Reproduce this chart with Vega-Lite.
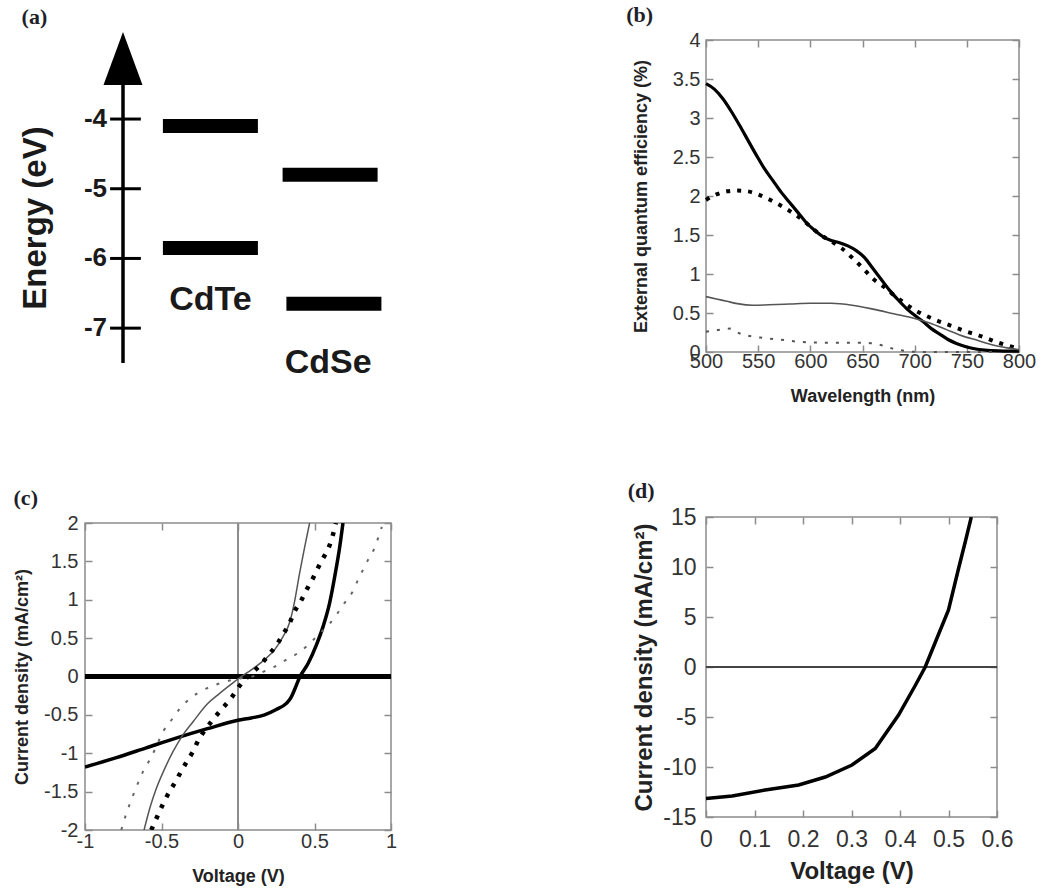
{
"$schema": "https://vega.github.io/schema/vega-lite/v6.json",
"background": "white",
"padding": {"left": 12, "top": 3, "right": 5, "bottom": 5},
"datasets": {
"levels": [
{"material": "CdTe", "band": "LUMO", "E": -4.1, "x1": 1.05, "x2": 3.55},
{"material": "CdTe", "band": "HOMO", "E": -5.85, "x1": 1.05, "x2": 3.55},
{"material": "CdSe", "band": "LUMO", "E": -4.8, "x1": 4.2, "x2": 6.7},
{"material": "CdSe", "band": "HOMO", "E": -6.65, "x1": 4.3, "x2": 6.8}
],
"eticks": [{"E": -4}, {"E": -5}, {"E": -6}, {"E": -7}],
"eqe": [
{"s":"A","wl":500,"eqe":3.44},{"s":"A","wl":508,"eqe":3.37},{"s":"A","wl":516,"eqe":3.25},{"s":"A","wl":524,"eqe":3.09},{"s":"A","wl":532,"eqe":2.91},{"s":"A","wl":540,"eqe":2.72},{"s":"A","wl":548,"eqe":2.53},{"s":"A","wl":556,"eqe":2.35},{"s":"A","wl":564,"eqe":2.2},{"s":"A","wl":572,"eqe":2.05},{"s":"A","wl":580,"eqe":1.92},{"s":"A","wl":588,"eqe":1.79},{"s":"A","wl":596,"eqe":1.66},{"s":"A","wl":604,"eqe":1.56},{"s":"A","wl":612,"eqe":1.48},{"s":"A","wl":620,"eqe":1.43},{"s":"A","wl":628,"eqe":1.4},{"s":"A","wl":636,"eqe":1.36},{"s":"A","wl":644,"eqe":1.3},{"s":"A","wl":652,"eqe":1.21},{"s":"A","wl":660,"eqe":1.07},{"s":"A","wl":668,"eqe":0.93},{"s":"A","wl":676,"eqe":0.79},{"s":"A","wl":684,"eqe":0.67},{"s":"A","wl":692,"eqe":0.56},{"s":"A","wl":700,"eqe":0.47},{"s":"A","wl":708,"eqe":0.39},{"s":"A","wl":716,"eqe":0.3},{"s":"A","wl":724,"eqe":0.23},{"s":"A","wl":732,"eqe":0.16},{"s":"A","wl":740,"eqe":0.11},{"s":"A","wl":750,"eqe":0.065},{"s":"A","wl":760,"eqe":0.035},{"s":"A","wl":770,"eqe":0.02},{"s":"A","wl":785,"eqe":0.012},{"s":"A","wl":800,"eqe":0.01},
{"s":"B","wl":500,"eqe":1.95},{"s":"B","wl":510,"eqe":2.02},{"s":"B","wl":520,"eqe":2.06},{"s":"B","wl":530,"eqe":2.07},{"s":"B","wl":540,"eqe":2.06},{"s":"B","wl":550,"eqe":2.02},{"s":"B","wl":560,"eqe":1.96},{"s":"B","wl":570,"eqe":1.89},{"s":"B","wl":580,"eqe":1.81},{"s":"B","wl":590,"eqe":1.72},{"s":"B","wl":600,"eqe":1.61},{"s":"B","wl":610,"eqe":1.5},{"s":"B","wl":620,"eqe":1.42},{"s":"B","wl":630,"eqe":1.33},{"s":"B","wl":640,"eqe":1.21},{"s":"B","wl":650,"eqe":1.08},{"s":"B","wl":660,"eqe":0.94},{"s":"B","wl":670,"eqe":0.84},{"s":"B","wl":680,"eqe":0.73},{"s":"B","wl":690,"eqe":0.63},{"s":"B","wl":700,"eqe":0.54},{"s":"B","wl":710,"eqe":0.47},{"s":"B","wl":720,"eqe":0.41},{"s":"B","wl":730,"eqe":0.36},{"s":"B","wl":740,"eqe":0.31},{"s":"B","wl":750,"eqe":0.26},{"s":"B","wl":760,"eqe":0.22},{"s":"B","wl":770,"eqe":0.17},{"s":"B","wl":780,"eqe":0.12},{"s":"B","wl":790,"eqe":0.08},{"s":"B","wl":800,"eqe":0.04},
{"s":"C","wl":500,"eqe":0.71},{"s":"C","wl":510,"eqe":0.68},{"s":"C","wl":520,"eqe":0.65},{"s":"C","wl":530,"eqe":0.62},{"s":"C","wl":545,"eqe":0.6},{"s":"C","wl":560,"eqe":0.605},{"s":"C","wl":580,"eqe":0.615},{"s":"C","wl":600,"eqe":0.625},{"s":"C","wl":620,"eqe":0.625},{"s":"C","wl":640,"eqe":0.6},{"s":"C","wl":660,"eqe":0.55},{"s":"C","wl":680,"eqe":0.49},{"s":"C","wl":700,"eqe":0.43},{"s":"C","wl":715,"eqe":0.37},{"s":"C","wl":730,"eqe":0.29},{"s":"C","wl":745,"eqe":0.21},{"s":"C","wl":760,"eqe":0.15},{"s":"C","wl":775,"eqe":0.09},{"s":"C","wl":790,"eqe":0.05},{"s":"C","wl":800,"eqe":0.03},
{"s":"D","wl":500,"eqe":0.26},{"s":"D","wl":510,"eqe":0.28},{"s":"D","wl":523,"eqe":0.3},{"s":"D","wl":532,"eqe":0.24},{"s":"D","wl":540,"eqe":0.21},{"s":"D","wl":555,"eqe":0.18},{"s":"D","wl":570,"eqe":0.16},{"s":"D","wl":590,"eqe":0.13},{"s":"D","wl":610,"eqe":0.12},{"s":"D","wl":630,"eqe":0.12},{"s":"D","wl":650,"eqe":0.12},{"s":"D","wl":660,"eqe":0.11},{"s":"D","wl":670,"eqe":0.08},{"s":"D","wl":680,"eqe":0.04},{"s":"D","wl":690,"eqe":0.015},{"s":"D","wl":700,"eqe":0.003},{"s":"D","wl":720,"eqe":0.0},{"s":"D","wl":740,"eqe":0.0},{"s":"D","wl":760,"eqe":0.0},{"s":"D","wl":780,"eqe":0.0}
],
"jv": [
{"s":"A","v":-1,"j":-1.18},{"s":"A","v":-0.8,"j":-1.06},{"s":"A","v":-0.6,"j":-0.93},{"s":"A","v":-0.4,"j":-0.8},{"s":"A","v":-0.2,"j":-0.68},{"s":"A","v":0,"j":-0.57},{"s":"A","v":0.087,"j":-0.54},{"s":"A","v":0.174,"j":-0.5},{"s":"A","v":0.25,"j":-0.43},{"s":"A","v":0.316,"j":-0.35},{"s":"A","v":0.345,"j":-0.28},{"s":"A","v":0.37,"j":-0.17},{"s":"A","v":0.403,"j":-0.01},{"s":"A","v":0.458,"j":0.17},{"s":"A","v":0.512,"j":0.41},{"s":"A","v":0.556,"j":0.65},{"s":"A","v":0.599,"j":0.96},{"s":"A","v":0.632,"j":1.3},{"s":"A","v":0.665,"j":1.69},{"s":"A","v":0.686,"j":2.0},
{"s":"B","v":-0.614,"j":-2},{"s":"B","v":-0.577,"j":-1.72},{"s":"B","v":-0.534,"j":-1.46},{"s":"B","v":-0.479,"j":-1.2},{"s":"B","v":-0.425,"j":-0.98},{"s":"B","v":-0.36,"j":-0.76},{"s":"B","v":-0.294,"j":-0.59},{"s":"B","v":-0.207,"j":-0.37},{"s":"B","v":-0.12,"j":-0.22},{"s":"B","v":-0.044,"j":-0.1},{"s":"B","v":0.022,"j":0},{"s":"B","v":0.087,"j":0.087},{"s":"B","v":0.174,"j":0.22},{"s":"B","v":0.24,"j":0.35},{"s":"B","v":0.294,"j":0.52},{"s":"B","v":0.34,"j":0.72},{"s":"B","v":0.37,"j":0.98},{"s":"B","v":0.403,"j":1.35},{"s":"B","v":0.436,"j":1.69},{"s":"B","v":0.468,"j":2.0},
{"s":"C","v":-0.567,"j":-2},{"s":"C","v":-0.529,"j":-1.83},{"s":"C","v":-0.497,"j":-1.69},{"s":"C","v":-0.462,"j":-1.55},{"s":"C","v":-0.42,"j":-1.41},{"s":"C","v":-0.381,"j":-1.27},{"s":"C","v":-0.338,"j":-1.12},{"s":"C","v":-0.298,"j":-0.99},{"s":"C","v":-0.261,"j":-0.84},{"s":"C","v":-0.163,"j":-0.56},{"s":"C","v":-0.109,"j":-0.43},{"s":"C","v":-0.044,"j":-0.28},{"s":"C","v":0.011,"j":-0.12},{"s":"C","v":0.076,"j":0.02},{"s":"C","v":0.142,"j":0.14},{"s":"C","v":0.2,"j":0.28},{"s":"C","v":0.255,"j":0.42},{"s":"C","v":0.298,"j":0.56},{"s":"C","v":0.338,"j":0.7},{"s":"C","v":0.37,"j":0.85},{"s":"C","v":0.41,"j":0.98},{"s":"C","v":0.451,"j":1.14},{"s":"C","v":0.49,"j":1.28},{"s":"C","v":0.519,"j":1.4},{"s":"C","v":0.556,"j":1.54},{"s":"C","v":0.595,"j":1.69},{"s":"C","v":0.621,"j":1.85},{"s":"C","v":0.64,"j":2.0},
{"s":"D","v":-0.763,"j":-2},{"s":"D","v":-0.734,"j":-1.81},{"s":"D","v":-0.686,"j":-1.55},{"s":"D","v":-0.654,"j":-1.39},{"s":"D","v":-0.621,"j":-1.24},{"s":"D","v":-0.584,"j":-1.11},{"s":"D","v":-0.545,"j":-0.96},{"s":"D","v":-0.49,"j":-0.72},{"s":"D","v":-0.436,"j":-0.57},{"s":"D","v":-0.381,"j":-0.42},{"s":"D","v":-0.316,"j":-0.29},{"s":"D","v":-0.24,"j":-0.19},{"s":"D","v":-0.163,"j":-0.12},{"s":"D","v":-0.087,"j":-0.07},{"s":"D","v":0,"j":-0.03},{"s":"D","v":0.109,"j":0.01},{"s":"D","v":0.185,"j":0.08},{"s":"D","v":0.25,"j":0.14},{"s":"D","v":0.316,"j":0.22},{"s":"D","v":0.388,"j":0.3},{"s":"D","v":0.458,"j":0.41},{"s":"D","v":0.523,"j":0.54},{"s":"D","v":0.599,"j":0.69},{"s":"D","v":0.649,"j":0.82},{"s":"D","v":0.697,"j":0.96},{"s":"D","v":0.745,"j":1.09},{"s":"D","v":0.78,"j":1.24},{"s":"D","v":0.817,"j":1.39},{"s":"D","v":0.85,"j":1.52},{"s":"D","v":0.887,"j":1.65},{"s":"D","v":0.915,"j":1.8},{"s":"D","v":0.94,"j":1.95}
],
"jv2": [
{"v":0,"j":-13.16},{"v":0.054,"j":-12.9},{"v":0.122,"j":-12.3},{"v":0.191,"j":-11.8},{"v":0.246,"j":-11.0},{"v":0.301,"j":-9.8},{"v":0.349,"j":-8.15},{"v":0.397,"j":-4.8},{"v":0.432,"j":-1.8},{"v":0.452,"j":0},{"v":0.473,"j":2.5},{"v":0.5,"j":5.7},{"v":0.521,"j":9.9},{"v":0.535,"j":12.6},{"v":0.547,"j":15}
]
},
"hconcat": [
{"spacing": 106, "vconcat": [
{
"title": {"text": "(a)", "dx": 2},
"width": 323, "height": 323,
"view": {"stroke": null},
"layer": [
{"data": {"name": "levels"}, "mark": {"type": "rule", "strokeWidth": 14, "strokeCap": "butt", "color": "#000"},
 "encoding": {"x": {"field": "x1", "type": "quantitative", "scale": {"domain": [-1, 7.5], "nice": false, "zero": false}, "axis": null}, "x2": {"field": "x2"},
 "y": {"field": "E", "type": "quantitative", "scale": {"domain": [-7.5, -2.866], "nice": false, "zero": false}, "axis": null}}},
{"data": {"values": [{}]}, "mark": {"type": "rule", "strokeWidth": 3.5, "color": "#000"},
 "encoding": {"x": {"datum": 0}, "y": {"datum": -7.5}, "y2": {"datum": -3.45}}},
{"data": {"values": [{}]}, "mark": {"type": "point", "filled": true, "opacity": 1, "color": "#000", "size": 2809, "shape": "M0,-1L0.736,1L-0.736,1Z"},
 "encoding": {"x": {"datum": 0}, "y": {"datum": -3.13}}},
{"data": {"name": "eticks"}, "mark": {"type": "rule", "strokeWidth": 3, "color": "#000"},
 "encoding": {"x": {"datum": -0.34}, "x2": {"datum": 0.47}, "y": {"field": "E", "type": "quantitative"}}},
{"data": {"name": "eticks"}, "mark": {"type": "text", "align": "right", "baseline": "middle", "font": "Liberation Sans", "fontWeight": "bold", "fontSize": 26, "color": "#1a1a1a"},
 "encoding": {"x": {"datum": -0.42}, "y": {"field": "E", "type": "quantitative"}, "text": {"field": "E", "type": "nominal"}}},
{"data": {"values": [{"material": "CdTe", "xc": 2.3, "yc": -6.6}, {"material": "CdSe", "xc": 5.4, "yc": -7.5}]},
 "mark": {"type": "text", "align": "center", "baseline": "middle", "font": "Liberation Sans", "fontWeight": "bold", "fontSize": 34, "color": "#1a1a1a"},
 "encoding": {"x": {"field": "xc", "type": "quantitative"}, "y": {"field": "yc", "type": "quantitative"}, "text": {"field": "material"}}},
{"data": {"values": [{}]}, "mark": {"type": "text", "angle": 270, "align": "center", "baseline": "middle", "font": "Liberation Sans", "fontWeight": "bold", "fontSize": 33, "color": "#1a1a1a"},
 "encoding": {"x": {"datum": -2.3}, "y": {"datum": -5.42}, "text": {"value": "Energy (eV)"}}}
]
},
{
"title": "(c)",
"width": 306, "height": 307,
"data": {"name": "jv"},
"layer": [
{"mark": {"type": "rule", "color": "#8c8c8c", "strokeWidth": 1.5}, "encoding": {"x": {"datum": 0, "scale": {"domain": [-1, 1], "nice": false}, "axis": {"orient": "bottom", "values": [-1, -0.5, 0, 0.5, 1], "title": "Voltage (V)", "labelExpr": "''+datum.value", "labelPadding": 8, "titlePadding": 16}}}},
{"mark": {"type": "rule", "color": "#000", "strokeWidth": 3.5}, "encoding": {"y": {"datum": 0, "scale": {"domain": [-2, 2], "nice": false}, "axis": {"orient": "left", "values": [-2, -1.5, -1, -0.5, 0, 0.5, 1, 1.5, 2], "title": "Current density (mA/cm²)", "labelExpr": "''+datum.value", "labelPadding": 14, "titlePadding": 12}}}},
{"transform": [{"filter": "datum.s == 'A'"}], "mark": {"type": "line", "color": "#000", "strokeWidth": 3.5, "interpolate": "monotone", "clip": true},
 "encoding": {"x": {"field": "v", "type": "quantitative", "axis": {"orient": "top", "values": [-1, -0.5, 0, 0.5, 1], "labels": false, "title": null}}, "y": {"field": "j", "type": "quantitative", "axis": {"orient": "right", "values": [-2, -1.5, -1, -0.5, 0, 0.5, 1, 1.5, 2], "labels": false, "title": null}}}},
{"transform": [{"filter": "datum.s == 'B'"}], "mark": {"type": "line", "color": "#555", "strokeWidth": 1.5, "interpolate": "monotone", "clip": true},
 "encoding": {"x": {"field": "v", "type": "quantitative", "axis": null}, "y": {"field": "j", "type": "quantitative", "axis": null}}},
{"transform": [{"filter": "datum.s == 'C'"}], "mark": {"type": "line", "color": "#000", "strokeWidth": 4.5, "strokeDash": [4, 8], "interpolate": "monotone", "clip": true},
 "encoding": {"x": {"field": "v", "type": "quantitative", "axis": null}, "y": {"field": "j", "type": "quantitative", "axis": null}}},
{"transform": [{"filter": "datum.s == 'D'"}], "mark": {"type": "line", "color": "#666", "strokeWidth": 2, "strokeDash": [3, 9], "interpolate": "monotone", "clip": true},
 "encoding": {"x": {"field": "v", "type": "quantitative", "axis": null}, "y": {"field": "j", "type": "quantitative", "axis": null}}}
],
"resolve": {"axis": {"x": "independent", "y": "independent"}}
}
]},
{"spacing": 73, "vconcat": [
{
"title": {"text": "(b)", "dx": -6},
"width": 313, "height": 312,
"data": {"name": "eqe"},
"layer": [
{"transform": [{"filter": "datum.s == 'A'"}], "mark": {"type": "line", "color": "#000", "strokeWidth": 3.2, "interpolate": "monotone"},
 "encoding": {"x": {"field": "wl", "type": "quantitative", "scale": {"domain": [500, 800], "nice": false, "zero": false}, "axis": {"orient": "bottom", "values": [500, 550, 600, 650, 700, 750, 800], "title": "Wavelength (nm)", "labelExpr": "''+datum.value", "labelPadding": 6, "titlePadding": 16}},
 "y": {"field": "eqe", "type": "quantitative", "scale": {"domain": [0, 4], "nice": false}, "axis": {"orient": "left", "values": [0, 0.5, 1, 1.5, 2, 2.5, 3, 3.5, 4], "title": "External quantum efficiency (%)", "labelExpr": "''+datum.value", "labelPadding": 13, "titlePadding": 22}}}},
{"transform": [{"filter": "datum.s == 'B'"}], "mark": {"type": "line", "color": "#000", "strokeWidth": 4, "strokeDash": [4, 7], "interpolate": "monotone"},
 "encoding": {"x": {"field": "wl", "type": "quantitative", "axis": {"orient": "top", "values": [500, 550, 600, 650, 700, 750, 800], "labels": false, "title": null}},
 "y": {"field": "eqe", "type": "quantitative", "axis": {"orient": "right", "values": [0, 0.5, 1, 1.5, 2, 2.5, 3, 3.5, 4], "labels": false, "title": null}}}},
{"transform": [{"filter": "datum.s == 'C'"}], "mark": {"type": "line", "color": "#555", "strokeWidth": 1.6, "interpolate": "monotone"},
 "encoding": {"x": {"field": "wl", "type": "quantitative", "axis": null}, "y": {"field": "eqe", "type": "quantitative", "axis": null}}},
{"transform": [{"filter": "datum.s == 'D'"}], "mark": {"type": "line", "color": "#555", "strokeWidth": 2, "strokeDash": [3, 8], "interpolate": "monotone"},
 "encoding": {"x": {"field": "wl", "type": "quantitative", "axis": null}, "y": {"field": "eqe", "type": "quantitative", "axis": null}}}
],
"resolve": {"axis": {"x": "independent", "y": "independent"}}
},
{
"title": {"text": "(d)", "dx": -5},
"width": 291, "height": 300,
"data": {"name": "jv2"},
"layer": [
{"mark": {"type": "rule", "color": "#444", "strokeWidth": 1.6}, "encoding": {"y": {"datum": 0, "scale": {"domain": [-15, 15], "nice": false}, "axis": {"orient": "left", "values": [-15, -10, -5, 0, 5, 10, 15], "title": "Current density (mA/cm²)", "labelExpr": "''+datum.value", "labelPadding": 17, "titlePadding": 6, "labelFontSize": 23, "titleFontSize": 24}}}},
{"mark": {"type": "line", "color": "#000", "strokeWidth": 3.5, "clip": true},
 "encoding": {"x": {"field": "v", "type": "quantitative", "scale": {"domain": [0, 0.6], "nice": false}, "axis": {"orient": "bottom", "values": [0, 0.1, 0.2, 0.3, 0.4, 0.5, 0.6], "title": "Voltage (V)", "labelExpr": "''+datum.value", "labelPadding": 18, "titlePadding": 8, "labelFontSize": 23, "titleFontSize": 24}},
 "y": {"field": "j", "type": "quantitative", "axis": {"orient": "right", "values": [-15, -10, -5, 0, 5, 10, 15], "labels": false, "title": null}}}},
{"mark": {"type": "line", "opacity": 0},
 "encoding": {"x": {"field": "v", "type": "quantitative", "axis": {"orient": "top", "values": [0, 0.1, 0.2, 0.3, 0.4, 0.5, 0.6], "labels": false, "title": null}}, "y": {"field": "j", "type": "quantitative", "axis": null}}}
],
"resolve": {"axis": {"x": "independent", "y": "independent"}}
}
]}
],
"spacing": 217,
"config": {
"view": {"stroke": "#8c8c8c", "strokeWidth": 1.5},
"axis": {"grid": false, "domain": false, "ticks": true, "tickColor": "#8c8c8c", "tickWidth": 1.5, "tickSize": -7, "labelFont": "Liberation Sans", "labelColor": "#333", "labelFontSize": 20, "labelFlush": false, "labelOverlap": false, "titleFont": "Liberation Sans", "titleFontWeight": "bold", "titleColor": "#222", "titleFontSize": 18},
"title": {"font": "Liberation Serif", "fontWeight": "bold", "fontSize": 22, "anchor": "start", "frame": "bounds", "color": "#1f1f2a", "offset": 3}
}
}
